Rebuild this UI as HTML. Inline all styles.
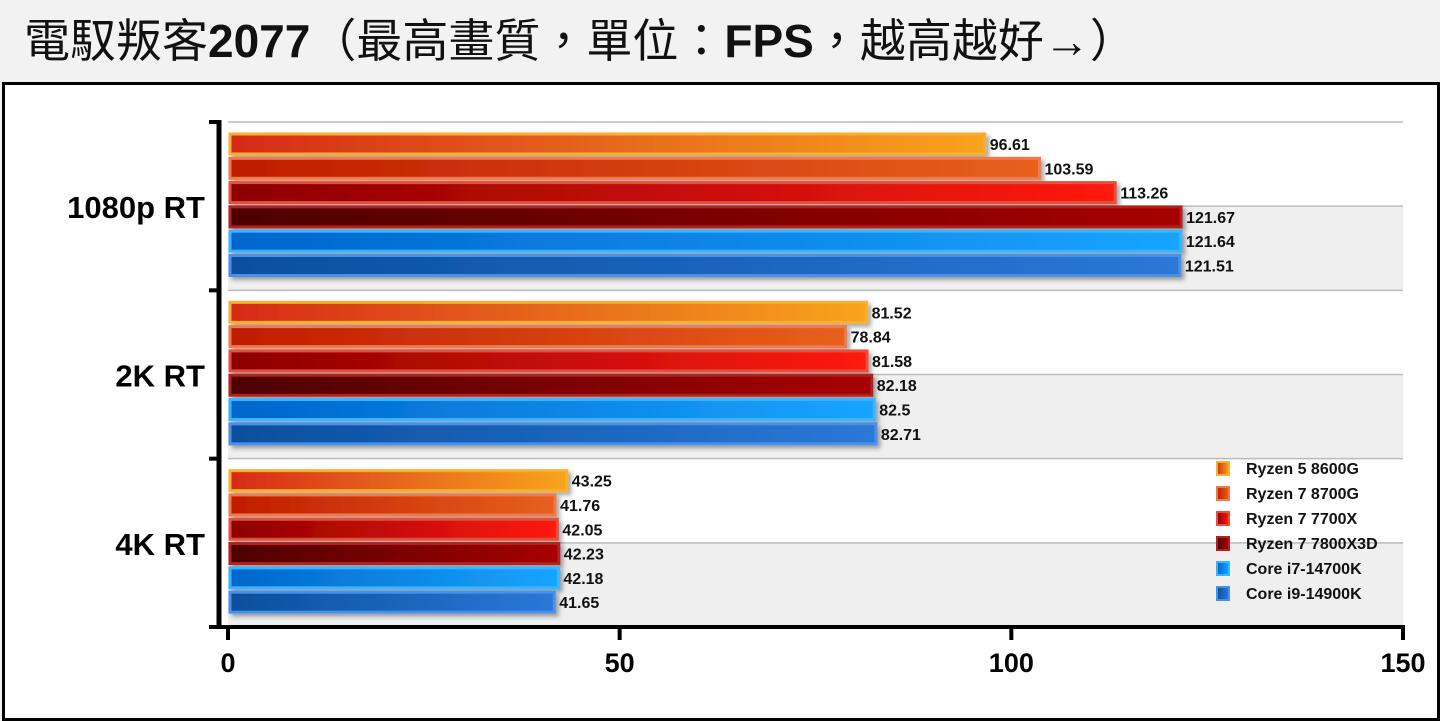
<!DOCTYPE html>
<html><head><meta charset="utf-8"><style>
body{margin:0;width:1440px;height:720px;background:#f2f2f2;overflow:hidden;font-family:"Liberation Sans","Noto Sans CJK TC",sans-serif}
#title{position:absolute;left:24px;top:10px;font-size:46px;line-height:62px;color:#111;white-space:nowrap;font-family:"Liberation Sans","Noto Sans CJK TC",sans-serif}
#title b{font-weight:bold}
#frame{position:absolute;left:2px;top:82px;width:1432px;height:633px;border:3px solid #000;background:#fff}
svg{position:absolute;left:0;top:0}
</style></head><body>
<div id="title">電馭叛客<b>2077</b>（最高畫質，單位：<b>FPS</b>，越高越好→）</div>
<div id="frame"></div>
<svg id="chart" width="1440" height="720"></svg>
<script>
const groups=["1080p RT","2K RT","4K RT"];
const seriesNames=["Ryzen 5 8600G","Ryzen 7 8700G","Ryzen 7 7700X","Ryzen 7 7800X3D","Core i7-14700K","Core i9-14900K"];
const s8600G=[96.61,81.52,43.25];
const s8700G=[103.59,78.84,41.76];
const s7700X=[113.26,81.58,42.05];
const s7800X3D=[121.67,82.18,42.23];
const s14700K=[121.64,82.5,42.18];
const s14900K=[121.51,82.71,41.65];
const xTicks=[0,50,100,150];
const seriesVals=[s8600G,s8700G,s7700X,s7800X3D,s14700K,s14900K];
const NS="http://www.w3.org/2000/svg";
const svg=document.getElementById('chart');
const X0=228,X1=1403,Y0=122,Y1=627,XMAX=150;
const x=v=>X0+(v/XMAX)*(X1-X0);
const gh=(Y1-Y0)/groups.length;
const gy=i=>Y0+i*gh;
const pitch=24.3,bh=20;
const cols=[["#d62a18","#f8a41e","#f7b030"],["#c01c00","#e8601c","#f07a4a"],["#8c0000","#ff1a10","#e8503a"],["#4c0000","#a80000","#b02020"],["#0066cc","#18a4ff","#3ab4ff"],["#0a4f9e","#2a78d8","#4a90e8"]];
function el(t,a,p){const e=document.createElementNS(NS,t);for(const k in a)e.setAttribute(k,a[k]);(p||svg).appendChild(e);return e;}
const defs=el('defs',{});
cols.forEach((c,i)=>{const g=el('linearGradient',{id:'g'+i,x1:0,x2:1,y1:0,y2:0},defs);el('stop',{offset:0,'stop-color':c[0]},g);el('stop',{offset:1,'stop-color':c[1]},g);});
const f=el('filter',{id:'sh',x:'-5%',y:'-20%',width:'110%',height:'160%'},defs);
el('feDropShadow',{dx:3,dy:3,stdDeviation:2,'flood-color':'#000','flood-opacity':0.35},f);
// bands & grid
groups.forEach((g,i)=>{
 const b=el('rect',{x:X0,y:gy(i)+gh/2,width:X1-X0,height:gh/2,fill:'#efefef'});
 
});
for(let k=0;k<=groups.length*2;k++){const yy=Y0+k*gh/2;
 const l=el('line',{x1:X0,x2:X1,y1:yy,y2:yy,stroke:'#bbb','stroke-width':1.5});
 }
// bars
groups.forEach((g,i)=>{
 seriesVals.forEach((arr,s)=>{
  const v=arr[i];const y=gy(i)+12+s*pitch;
  const r=el('rect',{x:X0+2,y:y,width:x(v)-X0-2,height:bh,fill:'url(#g'+s+')',stroke:cols[s][2],'stroke-width':3,filter:'url(#sh)'});
  
  
  const t=el('text',{x:x(v)+5,y:y+bh/2+6,'font-size':16,'font-weight':'bold',fill:'#111'});
  t.textContent=v;
  
 });
 const lb=el('text',{x:205,y:gy(i)+gh/2+12,'font-size':31,'font-weight':'bold','text-anchor':'end',fill:'#000'});
 lb.textContent=g;
 
});
// axes
const ya=el('line',{x1:219,x2:219,y1:Y0-2,y2:Y1+2,stroke:'#000','stroke-width':5});

for(let i=0;i<=groups.length;i++){const t=el('line',{x1:209,x2:221,y1:gy(i),y2:gy(i),stroke:'#000','stroke-width':4});
 }
const xa=el('line',{x1:217,x2:X1+2,y1:Y1,y2:Y1,stroke:'#000','stroke-width':4});

xTicks.forEach(v=>{
 const t=el('line',{x1:x(v),x2:x(v),y1:Y1,y2:Y1+13,stroke:'#000','stroke-width':4});
 
 const l=el('text',{x:x(v),y:672,'font-size':27,'font-weight':'bold','text-anchor':'middle',fill:'#000'});
 l.textContent=v;
 
});
// legend
seriesNames.forEach((n,s)=>{
 const y=468+s*25;
 const g=el('g',{});
 
 el('rect',{x:1217,y:y-6,width:12,height:13,fill:'url(#g'+s+')',stroke:cols[s][2],'stroke-width':2},g);
 const t=el('text',{x:1246,y:y+6,'font-size':16,'font-weight':'bold',fill:'#111'},g);
 t.textContent=n;
});
</script>
</body></html>
